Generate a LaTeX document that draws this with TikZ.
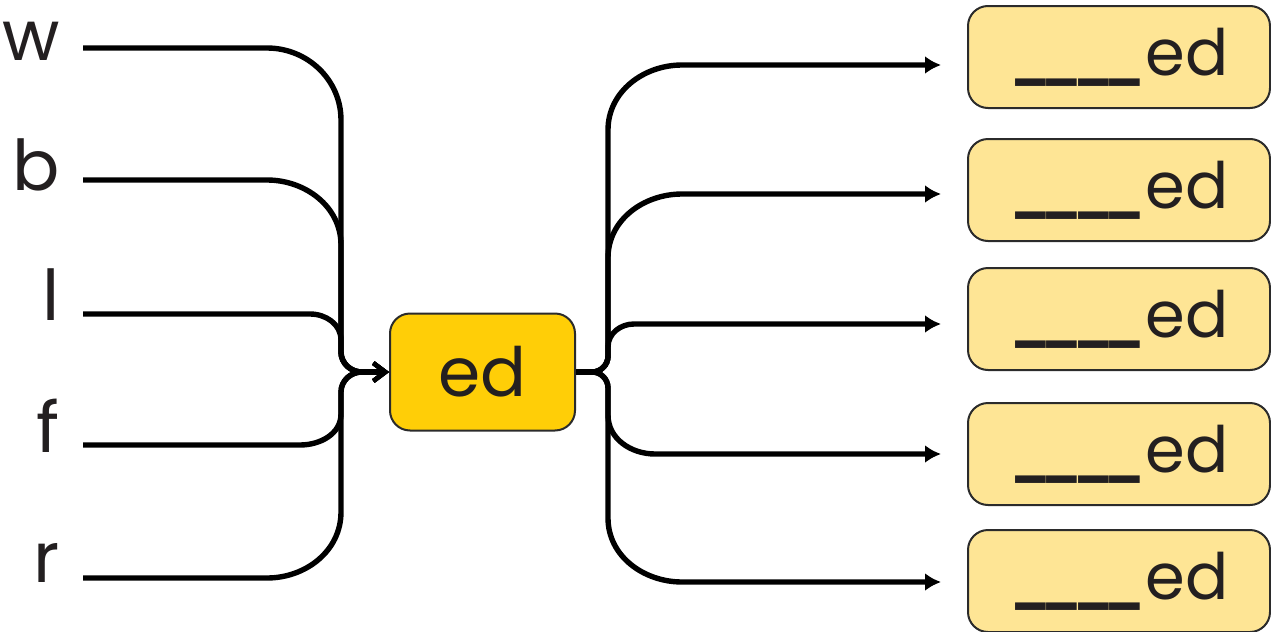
\documentclass[tikz,border=0pt]{standalone}
\usepackage{fontspec}
\setmainfont{Poppins}
\usepackage{xcolor}
\usetikzlibrary{positioning, arrows.meta, calc}
\definecolor{edgold}{HTML}{FFCE07}
\definecolor{edpale}{HTML}{FEE595}
\definecolor{edink}{HTML}{231F20}
\definecolor{edframe}{HTML}{2B2B2B}
% fill-in blank, four underscores pulled together
\newcommand{\blankline}{\scalebox{0.9}[1.4]{\_\kern-6pt\_\kern-6pt\_\kern-6pt\_}}

\begin{document}
\begin{tikzpicture}[x=0.5pt, y=-0.5pt,
    letter/.style={font=\fontsize{35}{40}\selectfont, text=edink, anchor=base east,
                   inner xsep=11.5pt, inner ysep=0pt},
    hubbox/.style={draw=edframe, line width=1pt, fill=edgold, rounded corners=10pt,
                   minimum width=92.5pt, minimum height=58.5pt,
                   font=\fontsize{34}{38}\selectfont, text=edink},
    outbox/.style={draw=edframe, line width=1pt, fill=edpale, rounded corners=10pt,
                   minimum width=151pt, minimum height=51pt,
                   font=\fontsize{32}{36}\selectfont, text=edink},
    wire/.style={line width=2.7pt, draw=black},
    inarrow/.style={wire, -{Straight Barb[length=6pt, width=9pt, line width=2.2pt]}},
    outarrow/.style={wire, -{Latex[length=8pt, width=9pt]}, shorten >=13pt},
]
\useasboundingbox (0,0) rectangle (1271,632);

% Letters (left)
\node[letter] (lw) at (83,60)  {w};
\node[letter] (lb) at (83,190) {b};
\node[letter] (ll) at (83,320) {l};
\node[letter] (lf) at (83,452) {f};
\node[letter] (lr) at (83,582) {r};

% Common ending (middle)
\node[hubbox] (hub) at (482.5,372) {ed};

% Word boxes (right)
\node[outbox] (o1) at (1119,57)  {\blankline ed};
\node[outbox] (o2) at (1119,190) {\blankline ed};
\node[outbox] (o3) at (1119,319) {\blankline ed};
\node[outbox] (o4) at (1119,454) {\blankline ed};
\node[outbox] (o5) at (1119,581) {\blankline ed};

% Letters into the hub: upper group
\draw[inarrow] (lw.east |- 0,48) -- (267,48) to[out=0,in=90] (341,120)
  -- (341,352) to[out=270,in=180] (362,372) -- (hub.west);
\draw[inarrow] (lb.east |- 0,180) -- (267,180) to[out=0,in=90] (341,245)
  -- (341,352) to[out=270,in=180] (362,372) -- (hub.west);
\draw[inarrow] (ll.east |- 0,314) -- (310,314) to[out=0,in=90] (341,340)
  -- (341,352) to[out=270,in=180] (362,372) -- (hub.west);
% lower group
\draw[inarrow] (lf.east |- 0,445) -- (300,445) to[out=0,in=270] (341,414)
  -- (341,392) to[out=90,in=180] (362,372) -- (hub.west);
\draw[inarrow] (lr.east |- 0,578) -- (267,578) to[out=0,in=270] (341,512)
  -- (341,392) to[out=90,in=180] (362,372) -- (hub.west);

% Hub out to the word boxes
\draw[outarrow] (hub.east) -- (592,372) to[out=0,in=270] (608,356)
  -- (608,130) to[out=90,in=180] (682,65) -- (o1.west |- 0,65);
\draw[outarrow] (hub.east) -- (592,372) to[out=0,in=270] (608,356)
  -- (608,258) to[out=90,in=180] (682,194) -- (o2.west |- 0,194);
\draw[outarrow] (hub.east) -- (592,372) to[out=0,in=270] (608,356)
  -- (608,347) to[out=90,in=180] (634,324) -- (o3.west |- 0,324);
\draw[outarrow] (hub.east) -- (592,372) to[out=0,in=90] (608,388)
  -- (608,415) to[out=270,in=180] (655,454) -- (o4.west |- 0,454);
\draw[outarrow] (hub.east) -- (592,372) to[out=0,in=90] (608,388)
  -- (608,518) to[out=270,in=180] (682,582) -- (o5.west |- 0,582);

\end{tikzpicture}
\end{document}
